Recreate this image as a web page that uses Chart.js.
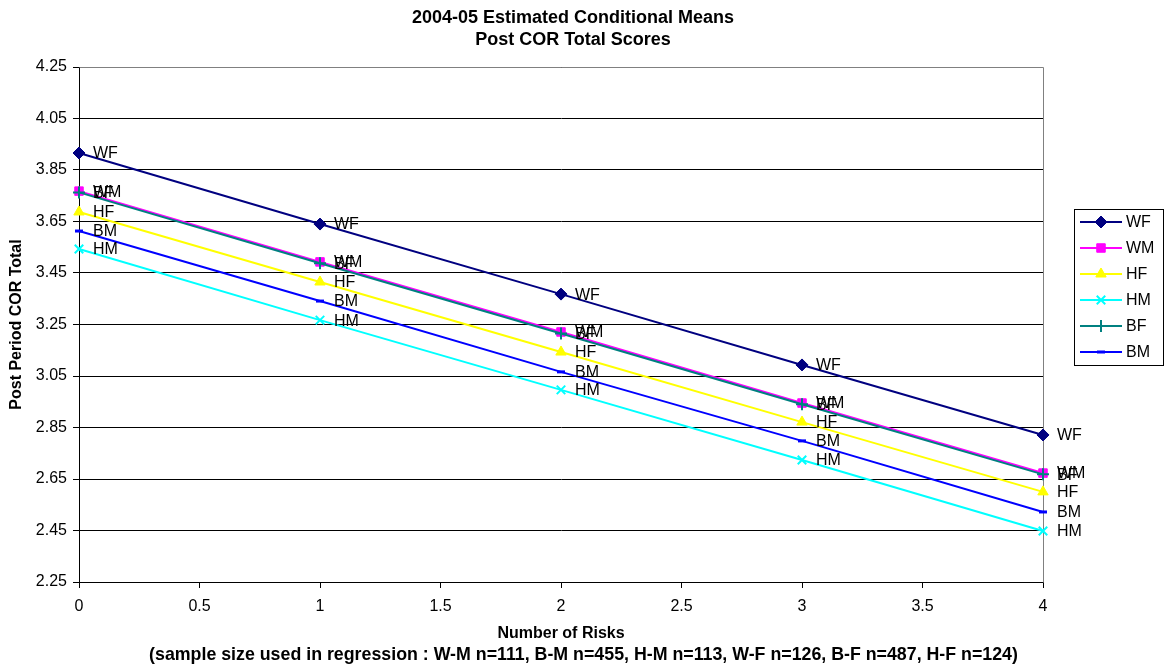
<!DOCTYPE html>
<html>
<head>
  <meta charset="utf-8">
  <title>Post COR Total Scores</title>
  <style>
    body {
      margin: 0;
      background: #fff;
    }

    .chart-box {
      width: 1167px;
      height: 670px;
      position: relative;
    }
  </style>
</head>
<body>

  <div class="chart-box">
    <canvas id="corChart"></canvas>
  </div>

  <script src="https://cdn.jsdelivr.net/npm/chart.js"></script>

  <script>
    // Data
    const risks = [0, 1, 2, 3, 4];
    const seriesNames = ['WF', 'WM', 'HF', 'HM', 'BF', 'BM'];
    const wf = [3.916, 3.640, 3.368, 3.093, 2.821];
    const wm = [3.768, 3.493, 3.221, 2.945, 2.673];
    const hf = [3.687, 3.415, 3.143, 2.871, 2.600];
    const hm = [3.543, 3.267, 2.996, 2.724, 2.448];
    const bf = [3.763, 3.488, 3.215, 2.940, 2.668];
    const bm = [3.613, 3.341, 3.066, 2.798, 2.522];
    const yTicks = [2.25, 2.45, 2.65, 2.85, 3.05, 3.25, 3.45, 3.65, 3.85, 4.05, 4.25];

    const titleLines = ['2004-05 Estimated Conditional Means', 'Post COR Total Scores'];
    const xTitle = 'Number of Risks';
    const xNote = '(sample size used in regression : W-M n=111, B-M n=455, H-M n=113, W-F n=126, B-F n=487, H-F n=124)';
    const yTitle = 'Post Period COR Total';

    const FONT = "'Liberation Sans', Arial, Helvetica, sans-serif";
    Chart.defaults.font.family = FONT;
    Chart.defaults.color = '#000';

    const styles = {
      WF: { color: '#000080', point: 'rectRot', radius: 6, bw: 1 },
      WM: { color: '#ff00ff', point: 'rect', radius: 6, bw: 1 },
      HF: { color: '#ffff00', point: 'triangle', radius: 6, bw: 1 },
      HM: { color: '#00ffff', point: 'crossRot', radius: 6, bw: 2 },
      BF: { color: '#008080', point: 'cross', radius: 6, bw: 2 },
      BM: { color: '#0000ff', point: 'line', radius: 4, bw: 3 }
    };

    const values = { WF: wf, WM: wm, HF: hf, HM: hm, BF: bf, BM: bm };

    const datasets = seriesNames.map((name, i) => {
      const s = styles[name];
      return {
        label: name,
        data: risks.map((x, j) => ({ x: x, y: values[name][j] })),
        borderColor: s.color,
        backgroundColor: s.color,
        borderWidth: 2,
        pointStyle: s.point,
        pointRadius: s.radius,
        pointBorderWidth: s.bw,
        pointBackgroundColor: s.color,
        pointBorderColor: s.color,
        clip: false,
        order: seriesNames.length - i
      };
    });

    // series name written next to every point
    const pointLabels = {
      id: 'pointLabels',
      afterDatasetsDraw(chart) {
        const ctx = chart.ctx;
        ctx.save();
        ctx.font = '16px ' + FONT;
        ctx.fillStyle = '#000';
        ctx.textBaseline = 'middle';
        ctx.textAlign = 'left';
        chart.data.datasets.forEach((ds, i) => {
          chart.getDatasetMeta(i).data.forEach(pt => {
            ctx.fillText(ds.label, pt.x + 14, pt.y + 1);
          });
        });
        ctx.restore();
      }
    };

    // chart title and the two line x axis title
    const titles = {
      id: 'titles',
      afterDraw(chart) {
        const ctx = chart.ctx;
        const a = chart.chartArea;
        ctx.save();
        ctx.fillStyle = '#000';
        ctx.textAlign = 'center';
        ctx.textBaseline = 'middle';
        ctx.font = 'bold 18px ' + FONT;
        ctx.fillText(titleLines[0], 573, 18);
        ctx.fillText(titleLines[1], 573, 40);
        ctx.font = 'bold 16px ' + FONT;
        ctx.fillText(xTitle, (a.left + a.right) / 2, 634);
        ctx.font = 'bold 17.8px ' + FONT;
        ctx.fillText(xNote, chart.width / 2, 655);
        ctx.restore();
      }
    };

    // gray frame on top and right of the plot area
    const plotFrame = {
      id: 'plotFrame',
      beforeDatasetsDraw(chart) {
        const a = chart.chartArea;
        const ctx = chart.ctx;
        ctx.save();
        ctx.strokeStyle = '#808080';
        ctx.lineWidth = 1;
        ctx.beginPath();
        ctx.moveTo(Math.round(a.left) + 0.5, Math.round(a.top) + 0.5);
        ctx.lineTo(Math.round(a.right) + 0.5, Math.round(a.top) + 0.5);
        ctx.lineTo(Math.round(a.right) + 0.5, Math.round(a.bottom) + 0.5);
        ctx.stroke();
        ctx.restore();
      }
    };

    // Excel style legend: line with marker, boxed
    const boxLegend = {
      id: 'boxLegend',
      afterDraw(chart) {
        const ctx = chart.ctx;
        const x0 = 1074, y0 = 209, w = 89, h = 156;
        ctx.save();
        ctx.fillStyle = '#fff';
        ctx.fillRect(x0, y0, w, h);
        ctx.strokeStyle = '#000';
        ctx.lineWidth = 1;
        ctx.strokeRect(x0 + 0.5, y0 + 0.5, w, h);
        chart.data.datasets.forEach((ds, i) => {
          const y = y0 + 13 + i * 26;
          ctx.strokeStyle = ds.borderColor;
          ctx.lineWidth = 2;
          ctx.beginPath();
          ctx.moveTo(x0 + 6, y);
          ctx.lineTo(x0 + 48, y);
          ctx.stroke();
          ctx.fillStyle = ds.borderColor;
          ctx.strokeStyle = ds.borderColor;
          ctx.lineWidth = ds.pointBorderWidth;
          Chart.helpers.drawPoint(ctx, {
            pointStyle: ds.pointStyle,
            radius: ds.pointRadius,
            rotation: 0,
            borderWidth: ds.pointBorderWidth
          }, x0 + 27, y);
          ctx.fillStyle = '#000';
          ctx.font = '16px ' + FONT;
          ctx.textBaseline = 'middle';
          ctx.fillText(ds.label, x0 + 52, y + 1);
        });
        ctx.restore();
      }
    };

    const canvasBg = {
      id: 'canvasBg',
      beforeDraw(chart) {
        const ctx = chart.ctx;
        ctx.save();
        ctx.fillStyle = '#fff';
        ctx.fillRect(0, 0, chart.width, chart.height);
        ctx.restore();
      }
    };

    new Chart(document.getElementById('corChart'), {
      type: 'line',
      data: { datasets: datasets },
      options: {
        responsive: true,
        maintainAspectRatio: false,
        animation: false,
        layout: { padding: { left: 0, right: 124, top: 67, bottom: 0 } },
        plugins: {
          legend: { display: false },
          tooltip: { enabled: false },
          title: { display: false }
        },
        scales: {
          x: {
            type: 'linear',
            min: 0,
            max: 4,
            ticks: {
              stepSize: 0.5,
              font: { size: 16 },
              padding: 9,
              color: '#000',
              callback: v => String(v)
            },
            grid: { drawOnChartArea: false, color: '#000', tickLength: 6 },
            border: { color: '#000' },
            afterFit(scale) { scale.height = 88; }
          },
          y: {
            min: yTicks[0],
            max: yTicks[yTicks.length - 1],
            afterBuildTicks(scale) {
              scale.ticks = yTicks.map(v => ({ value: v }));
            },
            ticks: {
              font: { size: 16 },
              padding: 6,
              color: '#000',
              callback: v => Number(v).toFixed(2)
            },
            grid: { color: '#000', tickLength: 6 },
            border: { color: '#000' },
            title: {
              display: true,
              text: yTitle,
              font: { size: 16, weight: 'bold', lineHeight: 1.2 },
              color: '#000',
              padding: { top: 7, bottom: 0 }
            },
            afterFit(scale) { scale.width = 79; }
          }
        }
      },
      plugins: [canvasBg, plotFrame, pointLabels, titles, boxLegend]
    });
  </script>
</body>
</html>
